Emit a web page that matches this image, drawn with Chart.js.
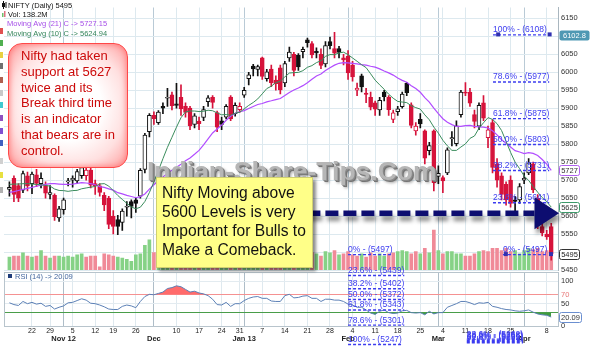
<!DOCTYPE html>
<html>
<head>
<meta charset="utf-8">
<script src="https://cdn.jsdelivr.net/npm/chart.js@4.4.1/dist/chart.umd.min.js"></script>
<style>
  body { margin: 0; background: #fff; }
  #wrap { position: relative; width: 590px; height: 346px; overflow: hidden; font-family: 'Liberation Sans', Arial, sans-serif; }
  canvas { position: absolute; left: 0; top: 0; }
  .strip { position: absolute; left: 0; width: 3px; height: 6px; }
  .wm { position: absolute; left: 147px; top: 156px; font: bold 26.5px 'Liberation Sans', Arial, sans-serif; line-height: 30px;
        color: #b6b6b6; text-shadow: 1px 1px 0 #8c8c8c, 2px 2px 0 #747474, 3px 3px 3px rgba(0,0,0,0.35); white-space: nowrap; }
  .ybox { position: absolute; left: 156px; top: 177px; width: 157px; height: 91px; background: #ffff88; border: 1px solid #d0d070;
          box-shadow: 3px 3px 3px rgba(0,0,0,0.45); padding: 5px 0 0 5px; box-sizing: border-box;
          font-size: 15.6px; line-height: 19px; color: #111; white-space: nowrap; }
  .rbox { position: absolute; left: 8px; top: 43px; width: 120px; height: 125px; box-sizing: border-box; border: 1.5px solid #ff4848;
          border-radius: 14px; background: radial-gradient(ellipse at center, #ffffff 40%, #ffe0e0 70%, #ff9e9e 100%);
          box-shadow: inset 0 0 6px #ff7070; padding: 4px 0 0 12px; font-size: 13px; line-height: 15.8px; color: #cc0a0a; white-space: nowrap; }
</style>
</head>
<body>
<div id="wrap">
  <canvas id="rsi" width="590" height="346"></canvas>
  <canvas id="price" width="590" height="346"></canvas>
  <div class="strip" style="top:28px;background:#e05050"></div>
  <div class="strip" style="top:40px;background:#50b050"></div>
  <div class="strip" style="top:52px;background:#e8d040"></div>
  <div class="strip" style="top:63px;background:#707070"></div>
  <div class="strip" style="top:77px;background:#b06050"></div>
  <div class="strip" style="top:90px;background:#c8c8c8"></div>
  <div class="strip" style="top:102px;background:#40c8d0"></div>
  <div class="strip" style="top:115px;background:#9050c0"></div>
  <div class="strip" style="top:128px;background:#8050d0"></div>
  <div class="strip" style="top:140px;background:#4060c0"></div>
  <div class="strip" style="top:158px;background:#d0d0d0"></div>
  <div class="strip" style="top:172px;background:#e8e040"></div>
  <div class="strip" style="top:187px;background:#b0b0b0"></div>
  <div class="wm">Indian-Share-Tips.Com</div>
  <div class="ybox">Nifty Moving above<br>5600 Levels is very<br>Important for Bulls to<br>Make a Comeback.</div>
  <div class="rbox">Nifty had taken<br>support at 5627<br>twice and its<br>Break third time<br>is an indicator<br>that bears are in<br>control.</div>
</div>
<script>
// trading days shown on the chart
const dates = [
  '2012-10-15','2012-10-16','2012-10-17','2012-10-18','2012-10-19','2012-10-22','2012-10-23','2012-10-25','2012-10-26','2012-10-29',
  '2012-10-30','2012-10-31','2012-11-01','2012-11-02','2012-11-05','2012-11-06','2012-11-07','2012-11-08','2012-11-09','2012-11-12',
  '2012-11-13','2012-11-15','2012-11-16','2012-11-19','2012-11-20','2012-11-21','2012-11-22','2012-11-23','2012-11-26','2012-11-27',
  '2012-11-29','2012-11-30','2012-12-03','2012-12-04','2012-12-05','2012-12-06','2012-12-07','2012-12-10','2012-12-11','2012-12-12',
  '2012-12-13','2012-12-14','2012-12-17','2012-12-18','2012-12-19','2012-12-20','2012-12-21','2012-12-24','2012-12-26','2012-12-27',
  '2012-12-28','2012-12-31','2013-01-01','2013-01-02','2013-01-03','2013-01-04','2013-01-07','2013-01-08','2013-01-09','2013-01-10',
  '2013-01-11','2013-01-14','2013-01-15','2013-01-16','2013-01-17','2013-01-18','2013-01-21','2013-01-22','2013-01-23','2013-01-24',
  '2013-01-25','2013-01-28','2013-01-29','2013-01-30','2013-01-31','2013-02-01','2013-02-04','2013-02-05','2013-02-06','2013-02-07',
  '2013-02-08','2013-02-11','2013-02-12','2013-02-13','2013-02-14','2013-02-15','2013-02-18','2013-02-19','2013-02-20','2013-02-21',
  '2013-02-22','2013-02-25','2013-02-26','2013-02-27','2013-02-28','2013-03-01','2013-03-04','2013-03-05','2013-03-06','2013-03-07',
  '2013-03-08','2013-03-11','2013-03-12','2013-03-13','2013-03-14','2013-03-15','2013-03-18','2013-03-19','2013-03-20','2013-03-21',
  '2013-03-22','2013-03-25','2013-03-26','2013-03-28','2013-04-01','2013-04-02','2013-04-03','2013-04-04','2013-04-05','2013-04-08',
  '2013-04-09'
];

const opens = [
  5674,5705,5685,5672,5712,5690,5715,5690,5685,5660, 5658,5595,5618,5695,5700,5698,5712,5712,5728,5690,
  5684,5658,5650,5600,5590,5582,5625,5640,5645,5655, 5730,5835,5880,5860,5905,5928,5937,5912,5930,5905,
  5900,5855,5864,5874,5918,5930,5888,5865,5875,5931, 5885,5896,5936,5982,6017,6008,6040,5982,6009,5978,
  6012,5970,6040,6050,6047,6057,6090,6080,6058,6050, 6023,6085,6066,6066,6040,6045,6020,5950,5990,5942,
  5930,5915,5895,5945,5930,5869,5890,5904,5969,5909, 5837,5869,5837,5782,5837,5710,5707,5720,5815,5801,
  5882,5945,5945,5882,5850,5915,5818,5860,5745,5712, 5688,5700,5645,5645,5700,5720,5745,5650,5571,5550,
  5571
];
const highs = [
  5695,5712,5690,5725,5722,5722,5730,5720,5695,5685, 5662,5627,5650,5705,5712,5730,5748,5740,5735,5700,
  5690,5665,5655,5615,5602,5620,5640,5645,5650,5732, 5830,5885,5890,5893,5915,5955,5945,5969,5965,5915,
  5905,5885,5875,5905,5935,5935,5892,5875,5910,5935, 5915,5915,5958,6000,6022,6020,6042,6008,6020,5990,
  6020,6030,6070,6055,6052,6070,6095,6085,6068,6065, 6085,6098,6111,6072,6050,6060,6030,5970,5995,5955,
  5945,5920,5930,5950,5935,5895,5905,5945,5972,5915, 5860,5885,5840,5805,5840,5740,5712,5790,5835,5865,
  5950,5971,5955,5895,5915,5935,5850,5868,5760,5720, 5695,5712,5655,5690,5720,5760,5750,5660,5590,5560,
  5580
];
const lows = [
  5655,5640,5640,5665,5670,5662,5682,5678,5650,5648, 5588,5585,5605,5684,5680,5690,5705,5700,5678,5660,
  5655,5615,5565,5550,5548,5560,5600,5595,5610,5650, 5720,5820,5855,5855,5885,5905,5895,5900,5880,5875,
  5840,5845,5840,5865,5905,5900,5835,5840,5870,5865, 5878,5888,5930,5965,5990,5990,5980,5975,5960,5950,
  5940,5960,6030,5990,6005,6040,6070,6040,6040,6010, 6015,6065,6040,6040,6020,5980,5975,5935,5945,5915,
  5895,5880,5880,5920,5880,5860,5880,5900,5935,5845, 5825,5845,5745,5770,5670,5690,5665,5715,5795,5795,
  5875,5935,5905,5845,5840,5865,5790,5720,5680,5645, 5630,5625,5615,5635,5690,5715,5665,5565,5545,5535,
  5477
];
const closes = [
  5680,5660,5650,5718,5684,5717,5691,5705,5664,5665, 5598,5620,5645,5698,5705,5724,5735,5728,5686,5684,
  5666,5631,5577,5571,5571,5614,5627,5627,5635,5727, 5825,5880,5871,5889,5900,5930,5907,5908,5898,5888,
  5851,5879,5857,5896,5929,5916,5847,5855,5905,5870, 5908,5905,5950,5993,6009,6016,5988,6001,5971,5968,
  5951,6024,6056,6005,6015,6064,6082,6048,6054,6019, 6074,6074,6053,6055,6034,5998,5987,5956,5959,5938,
  5903,5897,5922,5932,5896,5887,5898,5939,5943,5852, 5850,5856,5761,5796,5693,5719,5698,5784,5818,5851,
  5945,5942,5914,5863,5908,5872,5840,5735,5700,5660, 5645,5635,5641,5682,5705,5748,5673,5574,5553,5542,
  5495
];
// volume, millions
const volumes = [
  89,96,96,118,96,89,96,133,96,81, 96,96,89,96,89,104,111,89,96,96,
  22,111,104,96,89,81,74,59,104,111, 170,207,120,115,125,140,110,118,122,105,
  112,100,95,108,115,110,118,70,90,105, 98,75,85,120,125,105,115,110,118,112,
  120,125,130,118,112,128,115,120,111,96, 126,118,133,104,111,126,104,96,111,89,
  118,96,111,96,111,118,126,133,126,111, 126,111,148,118,274,133,111,126,126,111,
  111,96,96,111,126,133,126,148,148,133, 148,126,133,111,133,148,140,148,126,133,
  138.2
];
const ma10 = [
  5688,5689,5689,5690,5690,5689,5688,5687,5685,5683.4, 5675.2,5671.2,5670.7,5668.7,5670.8,5671.5,5675.9,5678.2,5680.4,5682.3,
  5689.1,5690.2,5683.4,5670.7,5657.3,5646.3,5635.5,5625.4,5620.3,5624.6, 5640.5,5665.4,5694.8,5726.6,5759.5,5791.1,5819.1,5847.2,5873.5,5889.6,
  5892.2,5892.1,5890.7,5891.4,5894.3,5892.9,5886.9,5881.6,5882.3,5880.5, 5886.2,5888.8,5898.1,5907.8,5915.8,5925.8,5939.9,5954.5,5961.1,5970.9,
  5975.2,5987.1,5997.7,5998.9,5999.5,6004.3,6013.7,6018.4,6026.7,6031.8, 6044.1,6049.1,6048.8,6053.8,6055.7,6049.1,6039.6,6030.4,6020.9,6012.8,
  5995.7,5978.0,5964.9,5952.6,5938.8,5927.7,5918.8,5917.1,5915.5,5906.9, 5901.6,5897.5,5881.4,5867.8,5847.5,5830.7,5810.7,5795.2,5782.7,5782.6,
  5792.1,5800.7,5816.0,5822.7,5844.2,5859.5,5873.7,5868.8,5857.0,5837.9, 5807.9,5777.2,5749.9,5731.8,5711.5,5699.1,5682.4,5666.3,5651.6,5639.8,
  5624.94
];
const ma21 = [
  5666,5668,5671,5674,5677,5680,5683,5686,5688,5690, 5690,5689,5688,5688,5689,5691,5693,5692,5690,5687,
  5682,5679.7,5675.8,5672.0,5665.0,5661.7,5657.4,5654.3,5651.0,5654.0, 5661.6,5675.0,5687.0,5698.6,5708.2,5719.0,5727.7,5735.9,5744.0,5753.6,
  5761.6,5771.7,5782.5,5797.7,5814.7,5831.1,5842.2,5853.1,5866.3,5877.5, 5886.1,5890.0,5893.3,5899.1,5904.8,5910.3,5913.1,5917.6,5920.6,5924.0,
  5927.0,5935.1,5943.6,5950.6,5956.3,5962.7,5970.6,5980.2,5989.7,5995.1, 6004.8,6012.7,6019.8,6024.8,6026.7,6026.2,6024.8,6023.3,6021.3,6019.7,
  6016.6,6014.0,6009.2,6003.3,5998.1,5992.0,5984.1,5977.3,5972.3,5962.7, 5954.6,5944.2,5929.3,5917.1,5899.9,5884.9,5870.6,5860.9,5854.3,5849.2,
  5849.5,5851.4,5852.2,5849.4,5848.2,5847.1,5844.9,5837.1,5825.7,5812.2, 5802.4,5792.1,5781.9,5778.1,5773.8,5776.4,5774.2,5768.3,5757.3,5744.2,
  5727.15
];
const rsi14 = [
  52,48,46,55,50,53,49,51,44,46, 38,42,45,52,53,57,61,58,51,50,
  47,43,38,37,37,44,47,45,41,55, 66,71,70,73,76,84,86,90,88,82,
  76,78,74,72,68,60,48,47,53,44, 50,50,57,62,65,66,62,62,56,55,
  55,68,71,63,64,67,68,62,62,55, 60,60,58,58,55,49,47,42,42,36,
  29,26,33,36,30,28,29,34,35,30, 29,30,25,33,27,30,30,42,46,50,
  55,55,52,48,52,51,53,44,42,39, 37,36,34,33,34,36,31,27,25,24,
  20.09
];

const priceTicks = [5450,5500,5550,5600,5650,5700,5750,5800,5850,5900,5950,6000,6050,6100,6150];
const rsiTicks = [0, 30, 50, 70, 100];
const weekTicks = [5, 9, 14, 19, 23, 28, 37, 42, 47, 51, 56, 61, 66, 71, 76, 81, 86, 91, 96, 101, 106, 111, 119];
const weekLabels = ['22','29','5','12','19','26','10','17','24','31','7','14','21','28','4','11','18','25','4','11','18','25','8'];
const monthTicks = [12, 32, 52, 75, 95, 114];
const monthLabels = ['Nov 12','Dec','Jan 13','Feb','Mar','Apr'];

// fibonacci retracement tools drawn on the chart
const fibUpPct = ['100%','78.6%','61.8%','50.0%','38.2%','23.6%'];
const fibUpVal = [6108, 5977, 5875, 5803, 5731, 5641];
const fibDownPct = ['0%','23.6%','38.2%','50.0%','61.8%','78.6%','100%'];
const fibDownVal = [5497, 5439, 5402, 5372, 5343, 5301, 5247];
const fibSmallPct = ['23.6%','38.2%','50.0%','61.8%'];
const fibSmallVal = [5262, 5258, 5255, 5252];
const arrowLevel = 5608;

const FONT = "'Liberation Sans', Arial, sans-serif";
Chart.defaults.font.family = FONT;

const UP = '#111111', DOWN = '#d6133b';
const candleCol = closes.map((c, i) => (i === 0 || c >= closes[i - 1]) ? UP : DOWN);
const bodyFill = closes.map((c, i) => c < opens[i] ? candleCol[i] : '#ffffff');
const volCol = closes.map((c, i) => (i === 0 || c >= closes[i - 1]) ? '#86d286' : '#f08a98');
const gridTicks = [...weekTicks, ...monthTicks].sort((a, b) => a - b);
const xMin = -1.2, xMax = dates.length + 0.5;

function axisBox(ctx, yy, text, fill, stroke, textColor, w) {
  const x0 = 559.5, h = 10, top = Math.round(yy - h / 2) + 0.5;
  ctx.save();
  ctx.beginPath();
  ctx.roundRect(x0, top, w, h, 2);
  ctx.fillStyle = fill;
  ctx.fill();
  if (stroke) { ctx.strokeStyle = stroke; ctx.lineWidth = 1; ctx.stroke(); }
  ctx.fillStyle = textColor;
  ctx.font = '7.5px ' + FONT;
  ctx.textAlign = 'center';
  ctx.textBaseline = 'middle';
  ctx.fillText(text, x0 + w / 2, top + h / 2 + 0.5);
  ctx.restore();
}

function drawFib(ctx, yScale, pcts, vals, left) {
  ctx.font = '8.5px ' + FONT;
  ctx.fillStyle = '#3c3cf0';
  ctx.strokeStyle = '#3c3cf0';
  ctx.lineWidth = 1.4;
  ctx.setLineDash([3, 2]);
  pcts.forEach((p, i) => {
    const yy = yScale.getPixelForValue(vals[i]);
    const t = p + ' - (' + vals[i] + ')';
    ctx.fillText(t, left, yy - 1);
    const w = ctx.measureText(t).width;
    ctx.beginPath();
    ctx.moveTo(left, yy + 1.5);
    ctx.lineTo(left + w, yy + 1.5);
    ctx.stroke();
  });
  ctx.setLineDash([]);
}

const priceOverlay = {
  id: 'priceOverlay',
  afterDatasetsDraw(chart) {
    const { ctx, scales: { x, y } } = chart;
    ctx.save();
    // fib labels
    drawFib(ctx, y, fibUpPct, fibUpVal, x.getPixelForValue(107.1));
    drawFib(ctx, y, ['0%'], [5497], x.getPixelForValue(109.3));
    drawFib(ctx, y, fibDownPct, fibDownVal, x.getPixelForValue(75));
    drawFib(ctx, y, fibSmallPct, fibSmallVal, x.getPixelForValue(101.3));
    ctx.fillStyle = '#3030b0';
    ctx.fillRect(x.getPixelForValue(107.8), y.getPixelForValue(6108) - 1, 4, 4);
    ctx.fillRect(x.getPixelForValue(119.2), y.getPixelForValue(6108) - 1, 4, 4);
    ctx.fillRect(x.getPixelForValue(109.5), y.getPixelForValue(5497) - 1, 4, 4);
    ctx.fillRect(x.getPixelForValue(119.5), y.getPixelForValue(5497) - 1, 4, 4);

    // dashed arrow at the 5600 zone
    const ay = y.getPixelForValue(arrowLevel);
    const ax0 = x.getPixelForValue(66), ax1 = x.getPixelForValue(116.3);
    ctx.shadowColor = 'rgba(0,0,0,0.45)';
    ctx.shadowBlur = 4;
    ctx.shadowOffsetX = 2;
    ctx.shadowOffsetY = 5;
    ctx.strokeStyle = '#0d0d70';
    ctx.lineWidth = 5.5;
    ctx.setLineDash([13, 5]);
    ctx.beginPath();
    ctx.moveTo(ax0, ay);
    ctx.lineTo(ax1, ay);
    ctx.stroke();
    ctx.setLineDash([]);
    ctx.fillStyle = '#0d0d70';
    ctx.beginPath();
    ctx.moveTo(ax1, ay - 16);
    ctx.lineTo(559, ay);
    ctx.lineTo(ax1, ay + 16);
    ctx.closePath();
    ctx.fill();
    ctx.restore();
  },
  afterDraw(chart) {
    const { ctx, scales: { y } } = chart;
    ctx.save();
    // legend
    ctx.font = '7.5px ' + FONT;
    ctx.textBaseline = 'middle';
    ctx.fillStyle = '#111';
    ctx.fillRect(3, 1, 1, 8);
    ctx.fillRect(2, 3, 3, 4);
    ctx.fillRect(5.5, 2, 1, 6);
    ctx.fillText('NIFTY (Daily) 5495', 8, 5.5);
    ctx.fillStyle = '#6cc06c'; ctx.fillRect(2, 13, 1.5, 4);
    ctx.fillStyle = '#e07080'; ctx.fillRect(4, 11, 1.5, 6);
    ctx.fillStyle = '#111';
    ctx.fillText('Vol: 138.2M', 8, 14.5);
    ctx.fillStyle = '#a64ee8';
    ctx.fillText('Moving Avg (21) C -> 5727.15', 7, 24);
    ctx.fillStyle = '#33845a';
    ctx.fillText('Moving Avg (10) C -> 5624.94', 7, 33.5);
    ctx.restore();
    // price boxes on the axis
    axisBox(ctx, y.getPixelForValue(6102.8), '6102.8', '#4f98b3', null, '#fff', 30);
    axisBox(ctx, y.getPixelForValue(ma21[ma21.length - 1]), '5727', '#fff', '#b060f0', '#333', 20);
    axisBox(ctx, y.getPixelForValue(ma10[ma10.length - 1]), '5625', '#fff', '#3c9a6a', '#333', 20);
    axisBox(ctx, y.getPixelForValue(closes[closes.length - 1]), '5495', '#fff', '#333', '#222', 20);
  }
};

new Chart(document.getElementById('price'), {
  type: 'line',
  data: {
    datasets: [
      { type: 'line', data: ma10.map((v, i) => ({ x: i, y: v })), borderColor: '#3a8c5c', borderWidth: 1,
        pointRadius: 0, order: 0 },
      { type: 'line', data: ma21.map((v, i) => ({ x: i, y: v })), borderColor: '#b24dff', borderWidth: 1.2,
        pointRadius: 0, order: 1 },
      { type: 'bar', data: opens.map((o, i) => ({ x: i, y: [o, closes[i]] })), backgroundColor: bodyFill,
        borderColor: candleCol, borderWidth: 1, borderSkipped: false, barThickness: 4, grouped: false, order: 2 },
      { type: 'bar', data: lows.map((l, i) => ({ x: i, y: [l, highs[i]] })), backgroundColor: candleCol,
        barThickness: 1, grouped: false, order: 3 },
      { type: 'bar', yAxisID: 'yv', data: volumes.map((v, i) => ({ x: i, y: v })), backgroundColor: volCol,
        barThickness: 3, grouped: false, order: 4 }
    ]
  },
  options: {
    responsive: false,
    animation: false,
    devicePixelRatio: 1,
    events: [],
    layout: { padding: { left: 4, right: 0, top: 0, bottom: 76 }, autoPadding: false },
    plugins: { legend: { display: false }, tooltip: { enabled: false } },
    scales: {
      x: {
        type: 'linear', min: xMin, max: xMax, offset: false,
        afterBuildTicks: s => { s.ticks = gridTicks.map(v => ({ value: v })); },
        afterFit: s => { s.height = 0; },
        ticks: { display: false, autoSkip: false },
        grid: { offset: false, drawTicks: false,
          color: c => monthTicks.includes(c.tick.value) ? '#b9cad6' : '#dde9ef' },
        border: { display: false }
      },
      y: {
        position: 'right', min: 5450, max: 6180,
        afterBuildTicks: s => { s.ticks = priceTicks.map(v => ({ value: v })); },
        afterFit: s => { s.width = 32; },
        ticks: { font: { size: 7.5 }, color: '#333', padding: 3, autoSkip: false, callback: v => String(v) },
        grid: { color: '#dde9ef', drawTicks: false },
        border: { color: '#a9b6bf' }
      },
      yv: { display: false, min: 0, max: 1800 }
    }
  },
  plugins: [priceOverlay]
});

const rsiOverlay = {
  id: 'rsiOverlay',
  afterDraw(chart) {
    const { ctx, chartArea: a, scales: { y } } = chart;
    ctx.save();
    ctx.strokeStyle = '#b8c4cc';
    ctx.lineWidth = 1;
    ctx.strokeRect(a.left + 0.5, a.top + 0.5, a.right - a.left, a.bottom - a.top);
    ctx.fillStyle = '#1f3d7a';
    ctx.fillRect(8, 274, 4, 4);
    ctx.font = '7.5px ' + FONT;
    ctx.textBaseline = 'middle';
    ctx.fillStyle = '#44679e';
    ctx.fillText('RSI (14) -> 20.09', 15, 276.5);
    ctx.restore();
    axisBox(ctx, y.getPixelForValue(rsi14[rsi14.length - 1]), '20.09', '#fff', '#6b8fd0', '#333', 22);
  }
};

const rsiPts = rsi14.map((v, i) => ({ x: i, y: v }));
new Chart(document.getElementById('rsi'), {
  type: 'line',
  data: {
    datasets: [
      { data: rsiPts, borderColor: '#5c80b6', borderWidth: 1, pointRadius: 0,
        fill: { target: { value: 70 }, above: '#ff6b6b', below: 'rgba(0,0,0,0)' } },
      { data: rsiPts, borderWidth: 0, pointRadius: 0,
        fill: { target: { value: 30 }, above: 'rgba(0,0,0,0)', below: '#3f9b3f' } }
    ]
  },
  options: {
    responsive: false,
    animation: false,
    devicePixelRatio: 1,
    events: [],
    layout: { padding: { left: 4, right: 0, top: 272, bottom: 0 }, autoPadding: false },
    plugins: { legend: { display: false }, tooltip: { enabled: false } },
    scales: {
      x: {
        type: 'linear', min: xMin, max: xMax, offset: false,
        afterBuildTicks: s => { s.ticks = gridTicks.map(v => ({ value: v })); },
        afterFit: s => { s.height = 20; },
        ticks: {
          autoSkip: false, maxRotation: 0, minRotation: 0, padding: 2, color: '#222',
          font: c => (c.tick && monthTicks.includes(c.tick.value))
            ? { size: 7.5, weight: 'bold', lineHeight: 1 } : { size: 7, lineHeight: 1 },
          callback: v => {
            const w = weekTicks.indexOf(v);
            if (w >= 0) return weekLabels[w];
            const m = monthTicks.indexOf(v);
            if (m >= 0) return ['', monthLabels[m]];
            return '';
          }
        },
        grid: { offset: false, drawTicks: false,
          color: c => monthTicks.includes(c.tick.value) ? '#aebdc8' : '#dfe9ef' },
        border: { color: '#aab6be' }
      },
      y: {
        position: 'right', min: 0, max: 121,
        afterBuildTicks: s => { s.ticks = rsiTicks.map(v => ({ value: v })); },
        afterFit: s => { s.width = 32; },
        ticks: { font: { size: 7.5 }, padding: 3, autoSkip: false,
          color: c => c.tick.value === 70 ? '#e87878' : '#333',
          callback: v => v === 30 ? '' : String(v) },
        grid: { drawTicks: false,
          color: c => c.tick.value === 70 ? '#f39a9a' : (c.tick.value === 30 ? '#4e9e4e' : '#e3ebf0') },
        border: { color: '#a9b6bf' }
      }
    }
  },
  plugins: [rsiOverlay]
});
</script>
</body>
</html>
